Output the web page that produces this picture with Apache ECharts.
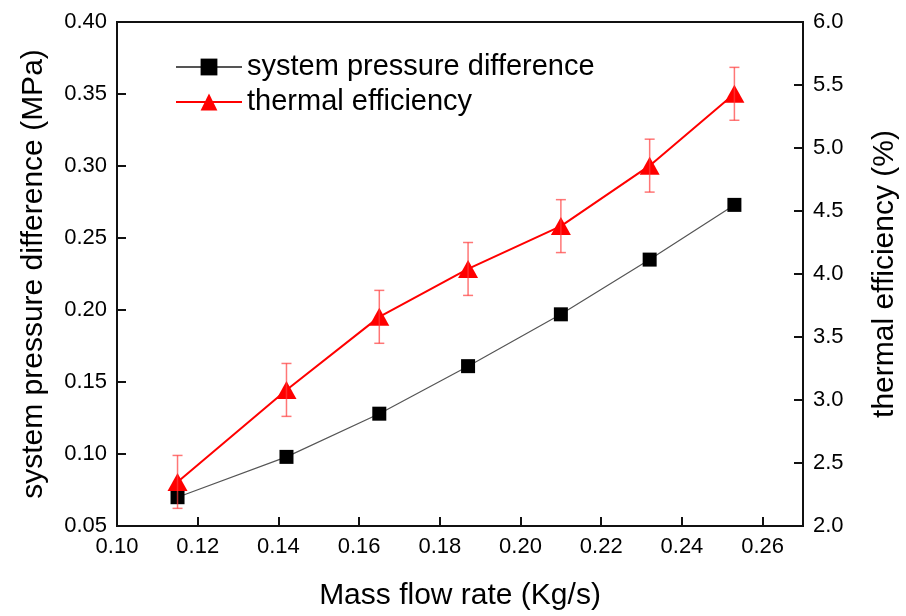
<!DOCTYPE html>
<html>
<head>
<meta charset="utf-8">
<script src="https://cdn.jsdelivr.net/npm/echarts@6/dist/echarts.min.js"></script>
<style>
  html, body { margin: 0; padding: 0; background: #fff; }
  #chart { width: 906px; height: 616px; }
</style>
</head>
<body>
<div id="chart"></div>
<script>
// data
const massFlow = [0.115, 0.142, 0.165, 0.187, 0.210, 0.232, 0.253];
const pressureDiff = [0.070, 0.098, 0.128, 0.161, 0.197, 0.235, 0.273];
const thermalEff = [2.35, 3.08, 3.66, 4.04, 4.38, 4.86, 5.43];
const thermalErr = [0.21, 0.21, 0.21, 0.21, 0.21, 0.21, 0.21];

const seriesNames = ['system pressure difference', 'thermal efficiency'];
const xTitle = 'Mass flow rate (Kg/s)';
const yLeftTitle = 'system pressure difference (MPa)';
const yRightTitle = 'thermal efficiency (%)';

const font = 'Liberation Sans, Arial, sans-serif';

let mychart = echarts.init(document.getElementById('chart'));

const pressData = massFlow.map((x, i) => [x, pressureDiff[i]]);
const effData = massFlow.map((x, i) => [x, thermalEff[i]]);
const errData = massFlow.map((x, i) => [x, thermalEff[i] - thermalErr[i], thermalEff[i] + thermalErr[i]]);

mychart.setOption({
  animation: false,
  backgroundColor: '#fff',
  grid: {
    left: 117, right: 103, top: 22, bottom: 90,
    containLabel: false,
    outerBoundsMode: 'none',
    show: true, borderColor: '#111', borderWidth: 2
  },
  legend: {
    left: 170, top: 47,
    orient: 'vertical',
    itemWidth: 66, itemHeight: 21, itemGap: 5,
    textStyle: { fontFamily: font, fontSize: 29, color: '#000', lineHeight: 30 },
    data: seriesNames
  },
  xAxis: {
    type: 'value', min: 0.10, max: 0.27, interval: 0.02,
    name: xTitle, nameLocation: 'middle', nameGap: 55,
    nameTextStyle: { fontFamily: font, fontSize: 30, color: '#000' },
    axisLine: { lineStyle: { color: '#111', width: 2 } },
    axisTick: { inside: true, length: 9, lineStyle: { color: '#111', width: 2 } },
    axisLabel: {
      fontFamily: font, fontSize: 22, color: '#000', margin: 10,
      showMaxLabel: false,
      formatter: v => v.toFixed(2)
    },
    splitLine: { show: false }
  },
  yAxis: [{
    type: 'value', min: 0.05, max: 0.40, interval: 0.05,
    name: yLeftTitle, nameLocation: 'middle', nameGap: 68, nameRotate: 90,
    nameTextStyle: { fontFamily: font, fontSize: 30, color: '#000' },
    axisLine: { show: true, lineStyle: { color: '#111', width: 2 } },
    axisTick: { show: true, inside: true, length: 9, lineStyle: { color: '#111', width: 2 } },
    axisLabel: { fontFamily: font, fontSize: 22, color: '#000', margin: 10, formatter: v => v.toFixed(2) },
    splitLine: { show: false }
  }, {
    type: 'value', min: 2.0, max: 6.0, interval: 0.5, position: 'right',
    name: yRightTitle, nameLocation: 'middle', nameGap: 67, nameRotate: 90,
    nameTextStyle: { fontFamily: font, fontSize: 30, color: '#000' },
    axisLine: { show: true, lineStyle: { color: '#111', width: 2 } },
    axisTick: { show: true, inside: true, length: 9, lineStyle: { color: '#111', width: 2 } },
    axisLabel: { fontFamily: font, fontSize: 22, color: '#000', margin: 10, formatter: v => v.toFixed(1) },
    splitLine: { show: false }
  }],
  series: [
    {
      name: seriesNames[0],
      type: 'line',
      yAxisIndex: 0,
      data: pressData,
      symbol: 'rect', symbolSize: 14,
      itemStyle: { color: '#000' },
      lineStyle: { color: '#555', width: 1.2 },
      z: 3
    },
    {
      name: seriesNames[1],
      type: 'line',
      yAxisIndex: 1,
      data: effData,
      symbol: 'triangle', symbolSize: [20, 18],
      itemStyle: { color: '#ff0000' },
      lineStyle: { color: '#ff0000', width: 2 },
      z: 4
    },
    {
      type: 'custom',
      yAxisIndex: 1,
      data: errData,
      z: 5,
      silent: true,
      renderItem: (params, api) => {
        const x = api.value(0);
        const lo = api.coord([x, api.value(1)]);
        const hi = api.coord([x, api.value(2)]);
        const cap = 5;
        const style = { stroke: 'rgba(255,60,60,0.7)', lineWidth: 1.5 };
        return {
          type: 'group',
          children: [
            { type: 'line', shape: { x1: lo[0], y1: lo[1], x2: hi[0], y2: hi[1] }, style },
            { type: 'line', shape: { x1: lo[0] - cap, y1: lo[1], x2: lo[0] + cap, y2: lo[1] }, style },
            { type: 'line', shape: { x1: hi[0] - cap, y1: hi[1], x2: hi[0] + cap, y2: hi[1] }, style }
          ]
        };
      }
    }
  ]
});
</script>
</body>
</html>
